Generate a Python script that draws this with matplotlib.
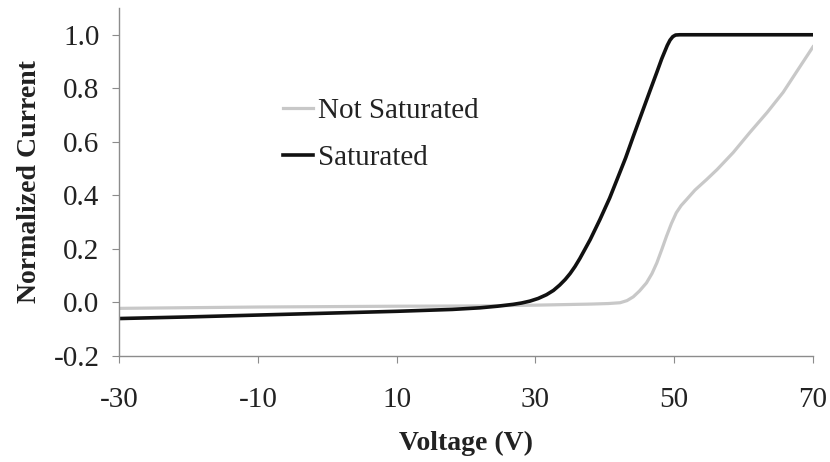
import matplotlib as mpl
mpl.use('Agg')
import matplotlib.pyplot as plt

# Saturated curve
sat_v = [-30, -20, -10, 0, 10, 18, 22, 24.5, 26.8, 28, 29.2, 30.4, 31.6, 32.6, 33.5, 34.3, 35.0, 35.7, 36.4, 37.1, 37.9, 39.3, 40.7, 41.7,
         43.0, 44.1, 45.3, 46.5, 47.5, 48.2, 49.0, 49.4, 49.8, 50.2, 50.8, 60, 70]
sat_i = [-0.060, -0.054, -0.047, -0.040, -0.033, -0.026, -0.020, -0.014, -0.007, -0.002, 0.005, 0.015, 0.029, 0.045, 0.065, 0.086, 0.108, 0.134, 0.164, 0.197, 0.235, 0.310, 0.390, 0.455,
         0.540, 0.620, 0.705, 0.790, 0.860, 0.910, 0.960, 0.980, 0.993, 0.999, 1.0, 1.0, 1.0]

# Not saturated curve
nsat_v = [-30, -10, 10, 22, 30, 38, 40.5, 42.2, 43.2, 44.1, 45.0, 46.0, 46.8, 47.5, 48.2, 48.9, 49.6, 50.3, 51.0, 51.8, 53.0,
          54.7, 56.2, 58.5, 60.9, 63.4, 65.7, 68.1, 70]
nsat_i = [-0.022, -0.017, -0.014, -0.013, -0.010, -0.006, -0.004, -0.001, 0.007, 0.021, 0.043, 0.073, 0.108, 0.148, 0.197, 0.248, 0.295, 0.335, 0.362, 0.385, 0.420,
          0.460, 0.497, 0.560, 0.635, 0.710, 0.785, 0.880, 0.955]

xticks = [-30, -10, 10, 30, 50, 70]
yticks = [-0.2, 0.0, 0.2, 0.4, 0.6, 0.8, 1.0]

plt.rcParams['font.family'] = ['Liberation Serif', 'DejaVu Serif']

fig = plt.figure(figsize=(8.3, 4.62), dpi=100)
ax = fig.add_axes([0.1434, 0.2294, 0.8361, 0.7533])

ax.plot(nsat_v, nsat_i, color='#c8c8c8', lw=2.3, label='Not Saturated', solid_joinstyle='round')
ax.plot(sat_v, sat_i, color='#111111', lw=2.6, label='Saturated', solid_joinstyle='round')

ax.set_xlim(-30, 70)
ax.set_ylim(-0.2, 1.1)
ax.set_xticks(xticks)
ax.set_xticklabels([str(t) for t in xticks])
ax.set_yticks(yticks)
ax.set_yticklabels(['%.1f' % t for t in yticks])

for s in ['top', 'right']:
    ax.spines[s].set_visible(False)
for s in ['left', 'bottom']:
    ax.spines[s].set_color('#8c8c8c')
    ax.spines[s].set_linewidth(1.0)

ax.tick_params(axis='both', colors='#8c8c8c', labelcolor='#222222', labelsize=21, length=5, direction='out')
ax.tick_params(axis='x', pad=17)
ax.tick_params(axis='y', pad=9)

ax.set_xlabel('Voltage (V)', fontsize=20, fontweight='bold', color='#222222', labelpad=13)
ax.set_ylabel('Normalized Current', fontsize=20, fontweight='bold', color='#222222', labelpad=8)

leg = ax.legend(loc='upper left', bbox_to_anchor=(0.341, 0.788), bbox_transform=fig.transFigure,
                frameon=False, fontsize=21, handlelength=1.03, handletextpad=0.17,
                labelspacing=0.7, borderpad=0, borderaxespad=0)
for t in leg.get_texts():
    t.set_color('#222222')

fig.savefig('out.png', dpi=100)
